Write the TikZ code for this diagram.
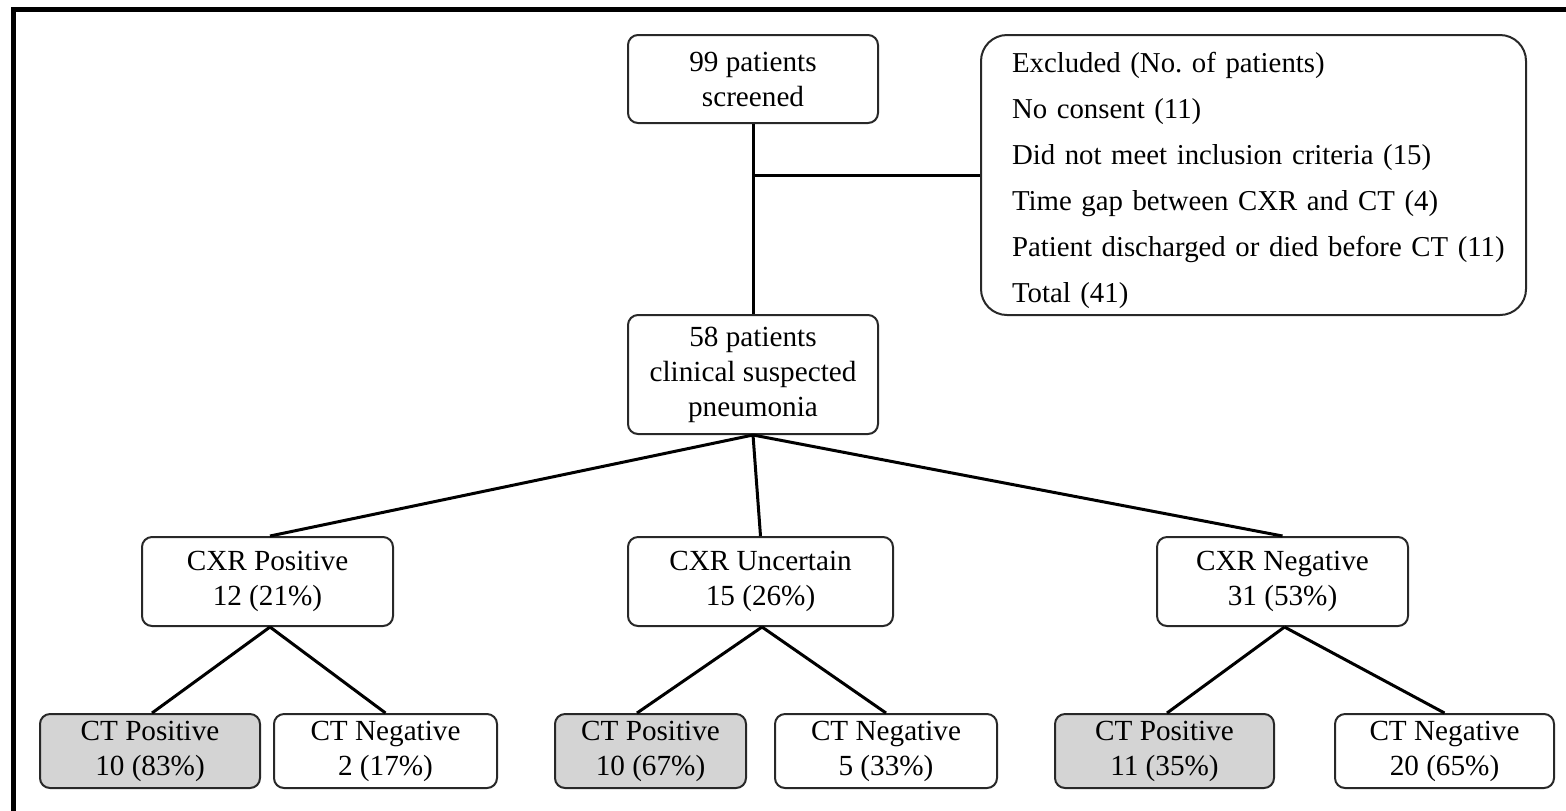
\documentclass[tikz,border=0pt]{standalone}
\usepackage{fontspec}
\setmainfont{Liberation Serif}
\usetikzlibrary{calc}
\definecolor{boxgray}{RGB}{212,212,212}
\definecolor{edgec}{RGB}{40,40,40}
\frenchspacing
\begin{document}
\begin{tikzpicture}[x=0.5pt,y=-0.5pt,
  box/.style={draw=edgec, line width=1pt, rounded corners=5pt, fill=white,
    align=center, inner sep=0pt, font=\fontsize{14.6pt}{17.5pt}\selectfont},
  graybox/.style={box, fill=boxgray},
  conn/.style={draw=black, line width=1.5pt},
]
\useasboundingbox (0,0) rectangle (1566,810);
% frame (only left and top visible; rest cropped)
\draw[line width=2.5pt] (13.5,830) -- (13.5,9.5) -- (1580,9.5);

\node[box, minimum width=125pt, minimum height=44pt] (s99) at (753,79) {99 patients\\screened};
\node[box, rounded corners=13pt, minimum width=272.5pt, minimum height=140pt] (excl) at (1253.5,175) {};
\node[align=left, text width=254pt, inner sep=0pt, font=\fontsize{14.4pt}{23pt}\selectfont]
  (excltxt) at ([xshift=6.25pt,yshift=-2.5pt]excl.center)
  {Excluded (No. of patients)\\No consent (11)\\Did not meet inclusion criteria (15)\\Time gap between CXR and CT (4)\\Patient discharged or died before CT (11)\\Total (41)};
\node[box, minimum width=125pt, minimum height=59.5pt] (s58) at (753,374.5) {58 patients\\clinical suspected\\pneumonia};

\node[box, minimum width=125.5pt, minimum height=44.5pt] (cxrP) at (267.5,581.5) {CXR Positive\\12 (21\%)};
\node[box, minimum width=132.5pt, minimum height=44.5pt] (cxrU) at (760.5,581.5) {CXR Uncertain\\15 (26\%)};
\node[box, minimum width=125.5pt, minimum height=44.5pt] (cxrN) at (1282.5,581.5) {CXR Negative\\31 (53\%)};

\node[graybox, minimum width=110pt, minimum height=37pt] (ct1) at (150,751) {CT Positive\\10 (83\%)};
\node[box, minimum width=111.5pt, minimum height=37pt] (ct2) at (385.5,751) {CT Negative\\2 (17\%)};
\node[graybox, minimum width=95.5pt, minimum height=37pt] (ct3) at (650.5,751) {CT Positive\\10 (67\%)};
\node[box, minimum width=111pt, minimum height=37pt] (ct4) at (886,751) {CT Negative\\5 (33\%)};
\node[graybox, minimum width=109.5pt, minimum height=37pt] (ct5) at (1164.5,751) {CT Positive\\11 (35\%)};
\node[box, minimum width=109.5pt, minimum height=37pt] (ct6) at (1444.5,751) {CT Negative\\20 (65\%)};

\coordinate (j) at (s99.south |- excl.west);
\draw[conn] (s99.south) -- (s58.north);
\draw[conn] (j) -- (excl.west);

\draw[conn] (s58.south) -- ([xshift=1.25pt]cxrP.north);
\draw[conn] (s58.south) -- (cxrU.north);
\draw[conn] (s58.south) -- (cxrN.north);

\draw[conn] ([xshift=1.25pt]cxrP.south) -- ([xshift=1pt]ct1.north);
\draw[conn] ([xshift=1.25pt]cxrP.south) -- (ct2.north);
\draw[conn] ([xshift=0.75pt]cxrU.south) -- ([xshift=-6.75pt]ct3.north);
\draw[conn] ([xshift=0.75pt]cxrU.south) -- (ct4.north);
\draw[conn] ([xshift=1pt]cxrN.south) -- ([xshift=1.25pt]ct5.north);
\draw[conn] ([xshift=1pt]cxrN.south) -- (ct6.north);
\end{tikzpicture}
\end{document}
